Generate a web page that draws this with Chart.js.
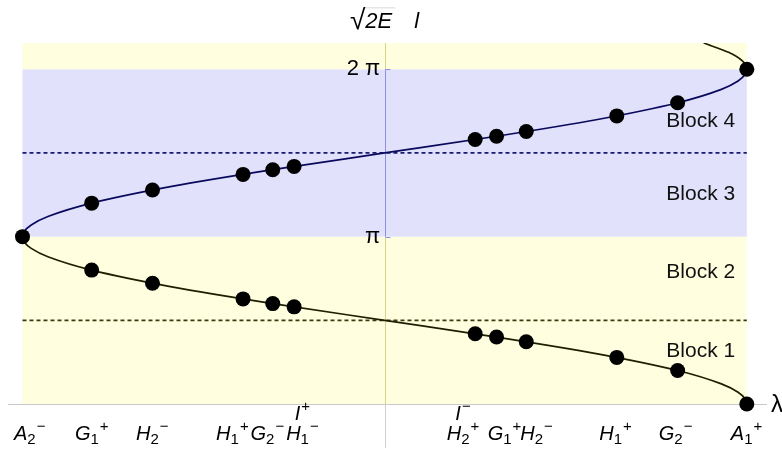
<!DOCTYPE html>
<html>
<head>
<meta charset="utf-8">
<script src="https://cdn.jsdelivr.net/npm/chart.js@4"></script>
<style>
  html, body { margin: 0; padding: 0; background: #fff; }
</style>
</head>
<body>
<canvas id="blocks" width="782" height="452"></canvas>
<script>
const FONT = '"Liberation Sans", Arial, sans-serif';

// the curve; heights are in units of pi
const curveY = [0, 0.03, 0.07, 0.12, 0.2, 0.3, 0.4, 0.5, 0.6, 0.7, 0.8, 0.88, 0.93, 0.97, 1,
    1.03, 1.07, 1.12, 1.2, 1.3, 1.4, 1.5, 1.6, 1.7, 1.8, 1.88, 1.93, 1.97, 2,
    2.05, 2.1, 2.157];
const curveX = [1, 0.9956, 0.9759, 0.9298, 0.809, 0.5878, 0.309, 0, -0.309, -0.5878, -0.809, -0.9298, -0.9759, -0.9956, -1,
    -0.9956, -0.9759, -0.9298, -0.809, -0.5878, -0.309, 0, 0.309, 0.5878, 0.809, 0.9298, 0.9759, 0.9956, 1,
    0.9877, 0.9511, 0.8808];

// marked states
const markX = [-1, -0.809, -0.641, -0.391, -0.309, -0.25, 0.25, 0.309, 0.391, 0.641, 0.809, 1];
const markUpper = [1, 1.2, 1.2785, 1.372, 1.4, 1.4196, 1.5804, 1.6, 1.628, 1.7215, 1.8, 2];
const markLower = [null, 0.8, 0.7215, 0.628, 0.6, 0.5804, 0.4196, 0.4, 0.372, 0.2785, 0.2, 0];

// x tick labels sit a little off the marks in the original
const tickPos = [-0.98, -0.8086, -0.6414, -0.4204, -0.3238, -0.2271, 0.2163, 0.3309, 0.4193, 0.6376, 0.8033, 0.9994];
const tickLabels = ['A₂⁻', 'G₁⁺', 'H₂⁻', 'H₁⁺', 'G₂⁻', 'H₁⁻', 'H₂⁺', 'G₁⁺', 'H₂⁻', 'H₁⁺', 'G₂⁻', 'A₁⁺'];
const tickAbove = ['', '', '', '', '', 'I⁺', 'I⁻', '', '', '', '', ''];

const yTickPos = [1, 2];
const yTickLabels = ['π', '2 π'];

const bandEdges = [0, 1, 2, 2.157];
const dashLevels = [0.5, 1.5];

const blockNames = ['Block 1', 'Block 2', 'Block 3', 'Block 4'];
const blockY = [0.315, 0.786, 1.255, 1.692];

const YELLOW = '#ffffe0';
const BLUE = '#e1e1fc';
const OLIVE = '#1e1e00';
const NAVY = '#0a0a5c';

const curve = curveY.map((y, i) => ({x: curveX[i], y: y}));
const marks = [];
markX.forEach((x, i) => {
    marks.push({x: x, y: markUpper[i]});
    if (markLower[i] !== null) marks.push({x: x, y: markLower[i]});
});

const SUBS = '₀₁₂₃₄₅₆₇₈₉';

// italic letter with upright sub/superscripts, centred on cx
function drawRich(ctx, label, cx, baseline) {
    const runs = [];
    for (const ch of label) {
        if (SUBS.includes(ch)) runs.push({t: String(SUBS.indexOf(ch)), font: '15px ' + FONT, dy: 4, gap: 0});
        else if (ch === '⁺') runs.push({t: '+', font: '15px ' + FONT, dy: -9, gap: 1});
        else if (ch === '⁻') runs.push({t: '\u2212', font: '15px ' + FONT, dy: -9, gap: 1});
        else runs.push({t: ch, font: 'italic 20px ' + FONT, dy: 0, gap: 0});
    }
    let total = 0;
    runs.forEach(r => {
        ctx.font = r.font;
        r.w = ctx.measureText(r.t).width;
        total += r.w + r.gap;
    });
    let px = cx - total / 2;
    runs.forEach(r => {
        ctx.font = r.font;
        px += r.gap;
        ctx.fillText(r.t, px, baseline + r.dy);
        px += r.w;
    });
}

const backdrop = {
    id: 'backdrop',
    beforeDraw(chart) {
        const {ctx, scales: {x, y}} = chart;
        const left = x.getPixelForValue(-1);
        const right = x.getPixelForValue(1);
        const x0 = Math.round(x.getPixelForValue(0)) + 0.5;
        ctx.save();
        for (let i = 0; i < bandEdges.length - 1; i++) {
            const top = y.getPixelForValue(bandEdges[i + 1]);
            const bottom = y.getPixelForValue(bandEdges[i]);
            ctx.fillStyle = i === 1 ? BLUE : YELLOW;
            ctx.fillRect(left, top, right - left, bottom - top);
            // vertical axis takes the tint of the band it crosses
            ctx.strokeStyle = i === 1 ? '#8f8fe0' : '#d4d490';
            ctx.lineWidth = 1;
            ctx.beginPath();
            ctx.moveTo(x0, top);
            ctx.lineTo(x0, bottom);
            ctx.stroke();
        }
        // the axis runs on past the lambda axis a little
        ctx.strokeStyle = '#d0d0d0';
        ctx.beginPath();
        ctx.moveTo(x0, y.getPixelForValue(0));
        ctx.lineTo(x0, 448);
        ctx.stroke();

        ctx.strokeStyle = '#8f8fe0';
        yTickPos.forEach(v => {
            const py = Math.round(y.getPixelForValue(v)) + 0.5;
            ctx.beginPath();
            ctx.moveTo(x0, py);
            ctx.lineTo(x0 + 5, py);
            ctx.stroke();
        });
        ctx.restore();
    },
    afterDraw(chart) {
        const {ctx, scales: {x, y}} = chart;
        ctx.save();
        ctx.fillStyle = '#111';
        ctx.font = '21px ' + FONT;
        ctx.textAlign = 'right';
        ctx.textBaseline = 'middle';
        const bx = x.getPixelForValue(0.968);
        blockNames.forEach((name, i) => ctx.fillText(name, bx, y.getPixelForValue(blockY[i])));

        ctx.fillStyle = '#000';
        ctx.textAlign = 'left';
        ctx.textBaseline = 'alphabetic';
        tickPos.forEach((v, i) => {
            const cx = x.getPixelForValue(v);
            drawRich(ctx, tickLabels[i], cx, 440);
            if (tickAbove[i]) drawRich(ctx, tickAbove[i], cx, 420);
        });

        // axis label: sqrt(2E) l
        ctx.font = '28px ' + FONT;
        const rx = 350;
        ctx.fillText('√', rx, 29);
        const rm = ctx.measureText('√');
        const rw = rm.width;
        const rtop = 29 - rm.actualBoundingBoxAscent;
        ctx.font = 'italic 22px ' + FONT;
        ctx.fillText('2E', rx + rw, 28);
        const ew = ctx.measureText('2E').width;
        ctx.lineWidth = 1.4;
        ctx.beginPath();
        ctx.moveTo(rx + rw - 1.5, rtop + 0.7);
        ctx.lineTo(rx + rw + ew + 3, rtop + 0.7);
        ctx.stroke();
        ctx.fillText('l', rx + rw + ew + 22, 28);

        ctx.font = '24px ' + FONT;
        ctx.textBaseline = 'middle';
        ctx.fillText('λ', 771, 405);
        ctx.restore();
    }
};

const config = {
    type: 'line',
    data: {
        datasets: [
            {
                data: marks,
                showLine: false,
                pointRadius: 7.5,
                pointBorderWidth: 0,
                pointBackgroundColor: '#000',
                clip: false,
                order: 0
            },
            {
                data: curve,
                indexAxis: 'y',
                cubicInterpolationMode: 'monotone',
                borderWidth: 1.7,
                pointRadius: 0,
                segment: {
                    borderColor: c => (c.p0.parsed.y >= 1 && c.p1.parsed.y <= 2) ? NAVY : OLIVE
                },
                order: 1
            },
            {
                data: [{x: -1, y: dashLevels[0]}, {x: 1, y: dashLevels[0]}],
                borderColor: '#3a3a10',
                borderWidth: 1.7,
                borderDash: [4, 3],
                pointRadius: 0,
                order: 2
            },
            {
                data: [{x: -1, y: dashLevels[1]}, {x: 1, y: dashLevels[1]}],
                borderColor: '#1a1a70',
                borderWidth: 1.7,
                borderDash: [4, 3],
                pointRadius: 0,
                order: 2
            }
        ]
    },
    options: {
        responsive: false,
        animation: false,
        events: [],
        layout: {
            padding: {left: 8, right: 16, top: 43, bottom: 0}
        },
        plugins: {
            legend: {display: false},
            tooltip: {enabled: false}
        },
        scales: {
            x: {
                type: 'linear',
                min: -1.04,
                max: 1.053,
                grid: {display: false, drawTicks: false},
                border: {color: '#c8c8c8', width: 1},
                afterBuildTicks: s => { s.ticks = tickPos.map(v => ({value: v})); },
                afterFit: s => { s.height = 48; },
                ticks: {display: false}
            },
            y: {
                type: 'linear',
                min: 0,
                max: 2.157,
                position: {x: 0},
                grid: {display: false, drawTicks: false},
                border: {display: false},
                afterBuildTicks: s => { s.ticks = yTickPos.map(v => ({value: v})); },
                ticks: {
                    color: '#000',
                    font: {family: FONT, size: 22},
                    callback: (v, i) => yTickLabels[i] + '\u2009'
                }
            }
        }
    },
    plugins: [backdrop]
};

new Chart(document.getElementById('blocks'), config);
</script>
</body>
</html>
